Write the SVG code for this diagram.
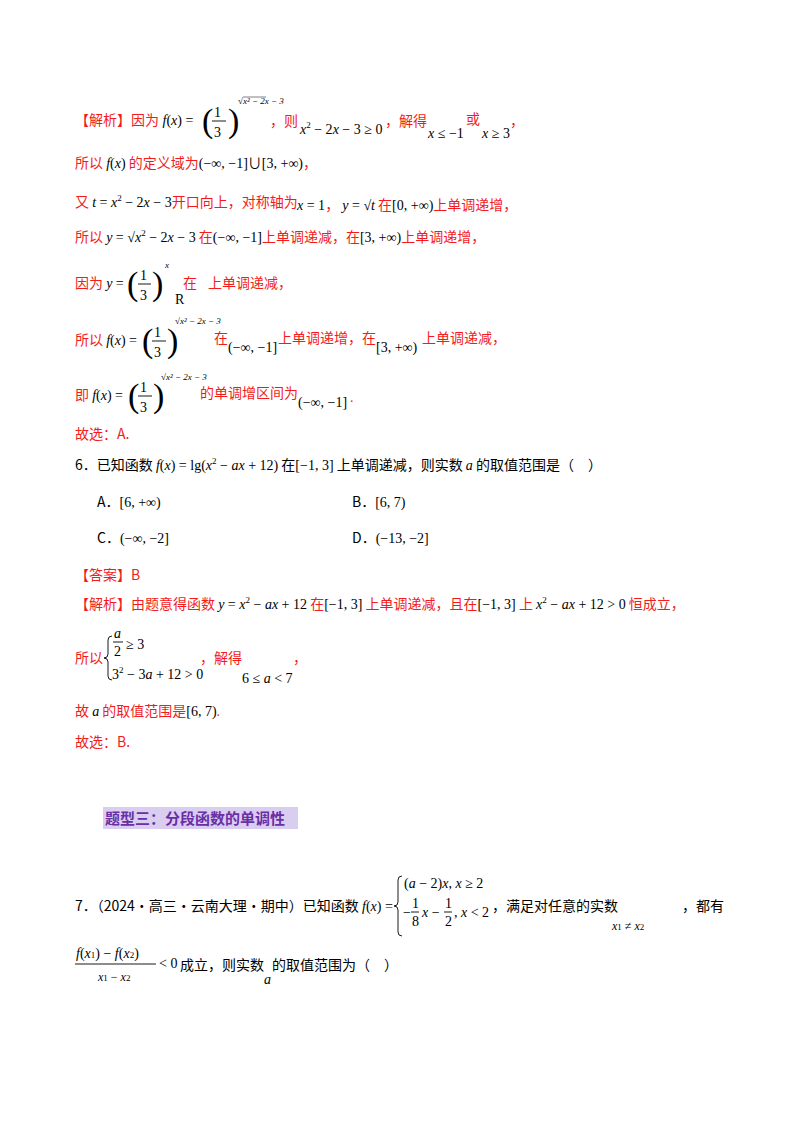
<svg xmlns="http://www.w3.org/2000/svg" width="800" height="1132" viewBox="0 0 800 1132">
<style>
text{font-family:"Liberation Serif","Noto Sans CJK SC",serif;font-size:14px;fill:#000}
.r{fill:#f21c1c}
.c{font-family:"Noto Sans CJK SC",sans-serif}
.i{font-style:italic}
.s{font-size:9px}
.b{font-size:34px;font-weight:100}
.h{font-family:"Noto Sans CJK SC",sans-serif;font-weight:bold;font-size:15px;fill:#6a2ea6}
line,path{stroke:#000;fill:none;stroke-width:0.9}
</style>
<rect width="800" height="1132" fill="#fff"/>
<!-- line 1 -->
<text x="75" y="125"><tspan class="c r">【解析】因为</tspan><tspan class="i"> f</tspan><tspan>(</tspan><tspan class="i">x</tspan><tspan>) =</tspan></text>
<text x="202" y="132" class="b">(</text><text x="228" y="132" class="b">)</text>
<text x="214" y="117">1</text><line x1="212" y1="121" x2="226" y2="121"/><text x="214" y="137">3</text>
<text x="238" y="104" class="s i">√x² − 2x − 3</text><line x1="243" y1="97" x2="266" y2="97" style="stroke-width:0.5"/>
<text x="270" y="126" class="c r">，则</text>
<text x="300" y="134"><tspan class="i">x</tspan><tspan dy="-6" class="s">2</tspan><tspan dy="6"> − 2</tspan><tspan class="i">x</tspan><tspan> − 3 ≥ 0</tspan></text>
<text x="385" y="126" class="c r">，解得</text>
<text x="428" y="138"><tspan class="i">x</tspan><tspan> ≤ −1</tspan></text>
<text x="466" y="124" class="c r">或</text>
<text x="482" y="138"><tspan class="i">x</tspan><tspan> ≥ 3</tspan></text>
<text x="510" y="126" class="c r">，</text>
<!-- line 2 -->
<text x="75" y="168"><tspan class="c r">所以 </tspan><tspan class="i">f</tspan><tspan>(</tspan><tspan class="i">x</tspan><tspan>)</tspan><tspan class="c r"> 的定义域为</tspan><tspan>(−∞, −1]∪[3, +∞)</tspan><tspan class="c r">，</tspan></text>
<!-- line 3 -->
<text x="75" y="207"><tspan class="c r">又 </tspan><tspan class="i">t</tspan><tspan> = </tspan><tspan class="i">x</tspan><tspan dy="-6" class="s">2</tspan><tspan dy="6"> − 2</tspan><tspan class="i">x</tspan><tspan> − 3</tspan><tspan class="c r">开口向上，对称轴为</tspan></text>
<text x="297" y="210"><tspan class="i">x</tspan><tspan> = 1</tspan><tspan class="c r">， </tspan><tspan class="i">y</tspan><tspan> = √</tspan><tspan class="i">t</tspan><tspan class="c r"> 在</tspan><tspan>[0, +∞)</tspan><tspan class="c r">上单调递增，</tspan></text>
<!-- line 4 -->
<text x="75" y="242"><tspan class="c r">所以 </tspan><tspan class="i">y</tspan><tspan> = √</tspan><tspan class="i">x</tspan><tspan dy="-6" class="s">2</tspan><tspan dy="6"> − 2</tspan><tspan class="i">x</tspan><tspan> − 3</tspan><tspan class="c r"> 在</tspan><tspan>(−∞, −1]</tspan><tspan class="c r">上单调递减，在</tspan><tspan>[3, +∞)</tspan><tspan class="c r">上单调递增，</tspan></text>
<!-- line 5 -->
<text x="75" y="288"><tspan class="c r">因为 </tspan><tspan class="i">y</tspan><tspan> =</tspan></text>
<text x="127" y="295" class="b">(</text><text x="152" y="295" class="b">)</text>
<text x="140" y="280">1</text><line x1="138" y1="284" x2="151" y2="284"/><text x="140" y="300">3</text>
<text x="165" y="268" class="s i">x</text>
<text x="183" y="288" class="c r">在</text><text x="175" y="304">R</text><text x="208" y="288" class="c r">上单调递减，</text>
<!-- line 6 -->
<text x="75" y="345"><tspan class="c r">所以 </tspan><tspan class="i">f</tspan><tspan>(</tspan><tspan class="i">x</tspan><tspan>) =</tspan></text>
<text x="142" y="352" class="b">(</text><text x="167" y="352" class="b">)</text>
<text x="154" y="337">1</text><line x1="152" y1="341" x2="166" y2="341"/><text x="154" y="357">3</text>
<text x="175" y="324" class="s i">√x² − 2x − 3</text>
<text x="214" y="343" class="c r">在</text>
<text x="228" y="352">(−∞, −1]</text>
<text x="278" y="343" class="c r">上单调递增，在</text>
<text x="376" y="352">[3, +∞)</text>
<text x="422" y="343" class="c r">上单调递减，</text>
<!-- line 7 -->
<text x="75" y="400"><tspan class="c r">即 </tspan><tspan class="i">f</tspan><tspan>(</tspan><tspan class="i">x</tspan><tspan>) =</tspan></text>
<text x="128" y="407" class="b">(</text><text x="153" y="407" class="b">)</text>
<text x="140" y="392">1</text><line x1="138" y1="396" x2="152" y2="396"/><text x="140" y="412">3</text>
<text x="161" y="380" class="s i">√x² − 2x − 3</text>
<text x="200" y="398" class="c r">的单调增区间为</text>
<text x="298" y="407">(−∞, −1]</text><text x="350" y="402" class="r">.</text>
<text x="75" y="439" class="c r">故选：A.</text>
<!-- Q6 -->
<text x="75" y="470"><tspan class="c">6．已知函数 </tspan><tspan class="i">f</tspan><tspan>(</tspan><tspan class="i">x</tspan><tspan>) = lg(</tspan><tspan class="i">x</tspan><tspan dy="-6" class="s">2</tspan><tspan dy="6"> − </tspan><tspan class="i">ax</tspan><tspan> + 12)</tspan><tspan class="c"> 在</tspan><tspan>[−1, 3]</tspan><tspan class="c"> 上单调递减，则实数 </tspan><tspan class="i">a</tspan><tspan class="c"> 的取值范围是（　）</tspan></text>
<text x="97" y="507"><tspan class="c">A．</tspan><tspan>[6, +∞)</tspan></text>
<text x="352" y="507"><tspan class="c">B．</tspan><tspan>[6, 7)</tspan></text>
<text x="97" y="543"><tspan class="c">C．</tspan><tspan>(−∞, −2]</tspan></text>
<text x="352" y="543"><tspan class="c">D．</tspan><tspan>(−13, −2]</tspan></text>
<text x="75" y="580" class="c r">【答案】B</text>
<text x="75" y="609"><tspan class="c r">【解析】由题意得函数 </tspan><tspan class="i">y</tspan><tspan> = </tspan><tspan class="i">x</tspan><tspan dy="-6" class="s">2</tspan><tspan dy="6"> − </tspan><tspan class="i">ax</tspan><tspan> + 12</tspan><tspan class="c r"> 在</tspan><tspan>[−1, 3]</tspan><tspan class="c r"> 上单调递减，且在</tspan><tspan>[−1, 3]</tspan><tspan class="c r"> 上 </tspan><tspan class="i">x</tspan><tspan dy="-6" class="s">2</tspan><tspan dy="6"> − </tspan><tspan class="i">ax</tspan><tspan> + 12 &gt; 0</tspan><tspan class="c r"> 恒成立，</tspan></text>
<text x="75" y="663" class="c r">所以</text>
<path d="M112 636 q-4 0 -4 4 v14 q0 4 -4 4 q4 0 4 4 v14 q0 4 4 4"/>
<text x="114" y="638" class="i">a</text><line x1="113" y1="642" x2="123" y2="642"/><text x="114" y="656">2</text><text x="126" y="649">≥ 3</text>
<text x="112" y="679"><tspan>3</tspan><tspan dy="-6" class="s">2</tspan><tspan dy="6"> − 3</tspan><tspan class="i">a</tspan><tspan> + 12 &gt; 0</tspan></text>
<text x="200" y="663" class="c r">，解得</text>
<text x="242" y="683"><tspan>6 ≤ </tspan><tspan class="i">a</tspan><tspan> &lt; 7</tspan></text>
<text x="293" y="663" class="c r">，</text>
<text x="75" y="716"><tspan class="c r">故 </tspan><tspan class="i">a</tspan><tspan class="c r"> 的取值范围是</tspan><tspan>[6, 7)</tspan><tspan class="r">.</tspan></text>
<text x="75" y="747" class="c r">故选：B.</text>
<!-- heading -->
<rect x="103" y="807" width="195" height="22" fill="#d9cdf0"/>
<text x="105" y="824" class="h">题型三：分段函数的单调性</text>
<!-- Q7 -->
<text x="75" y="911" class="c">7．（2024·高三·云南大理·期中）已知函数</text>
<text x="362" y="911"><tspan class="i">f</tspan><tspan>(</tspan><tspan class="i">x</tspan><tspan>) =</tspan></text>
<path d="M402 876 q-4 0 -4 4 v22 q0 4 -4 4 q4 0 4 4 v22 q0 4 4 4"/>
<text x="404" y="888"><tspan>(</tspan><tspan class="i">a</tspan><tspan> − 2)</tspan><tspan class="i">x</tspan><tspan>, </tspan><tspan class="i">x</tspan><tspan> ≥ 2</tspan></text>
<text x="403" y="917">−</text>
<text x="412" y="908">1</text><line x1="411" y1="912" x2="419" y2="912"/><text x="412" y="926">8</text>
<text x="422" y="917"><tspan class="i">x</tspan><tspan> − </tspan></text>
<text x="445" y="908">1</text><line x1="444" y1="912" x2="452" y2="912"/><text x="445" y="926">2</text>
<text x="454" y="917"><tspan>, </tspan><tspan class="i">x</tspan><tspan> &lt; 2</tspan></text>
<text x="492" y="911" class="c">，满足对任意的实数</text>
<text x="612" y="930" style="font-size:12px"><tspan class="i">x</tspan><tspan class="s">1</tspan><tspan> ≠ </tspan><tspan class="i">x</tspan><tspan class="s">2</tspan></text>
<text x="682" y="911" class="c">，都有</text>
<text x="76" y="958"><tspan class="i">f</tspan><tspan>(</tspan><tspan class="i">x</tspan><tspan class="s">1</tspan><tspan>) − </tspan><tspan class="i">f</tspan><tspan>(</tspan><tspan class="i">x</tspan><tspan class="s">2</tspan><tspan>)</tspan></text>
<line x1="75" y1="964" x2="156" y2="964"/>
<text x="98" y="981" style="font-size:12px"><tspan class="i">x</tspan><tspan class="s">1</tspan><tspan> − </tspan><tspan class="i">x</tspan><tspan class="s">2</tspan></text>
<text x="159" y="968">&lt; 0</text>
<text x="180" y="970" class="c">成立，则实数</text>
<text x="264" y="984" class="i">a</text>
<text x="272" y="970" class="c">的取值范围为（　）</text>
</svg>
